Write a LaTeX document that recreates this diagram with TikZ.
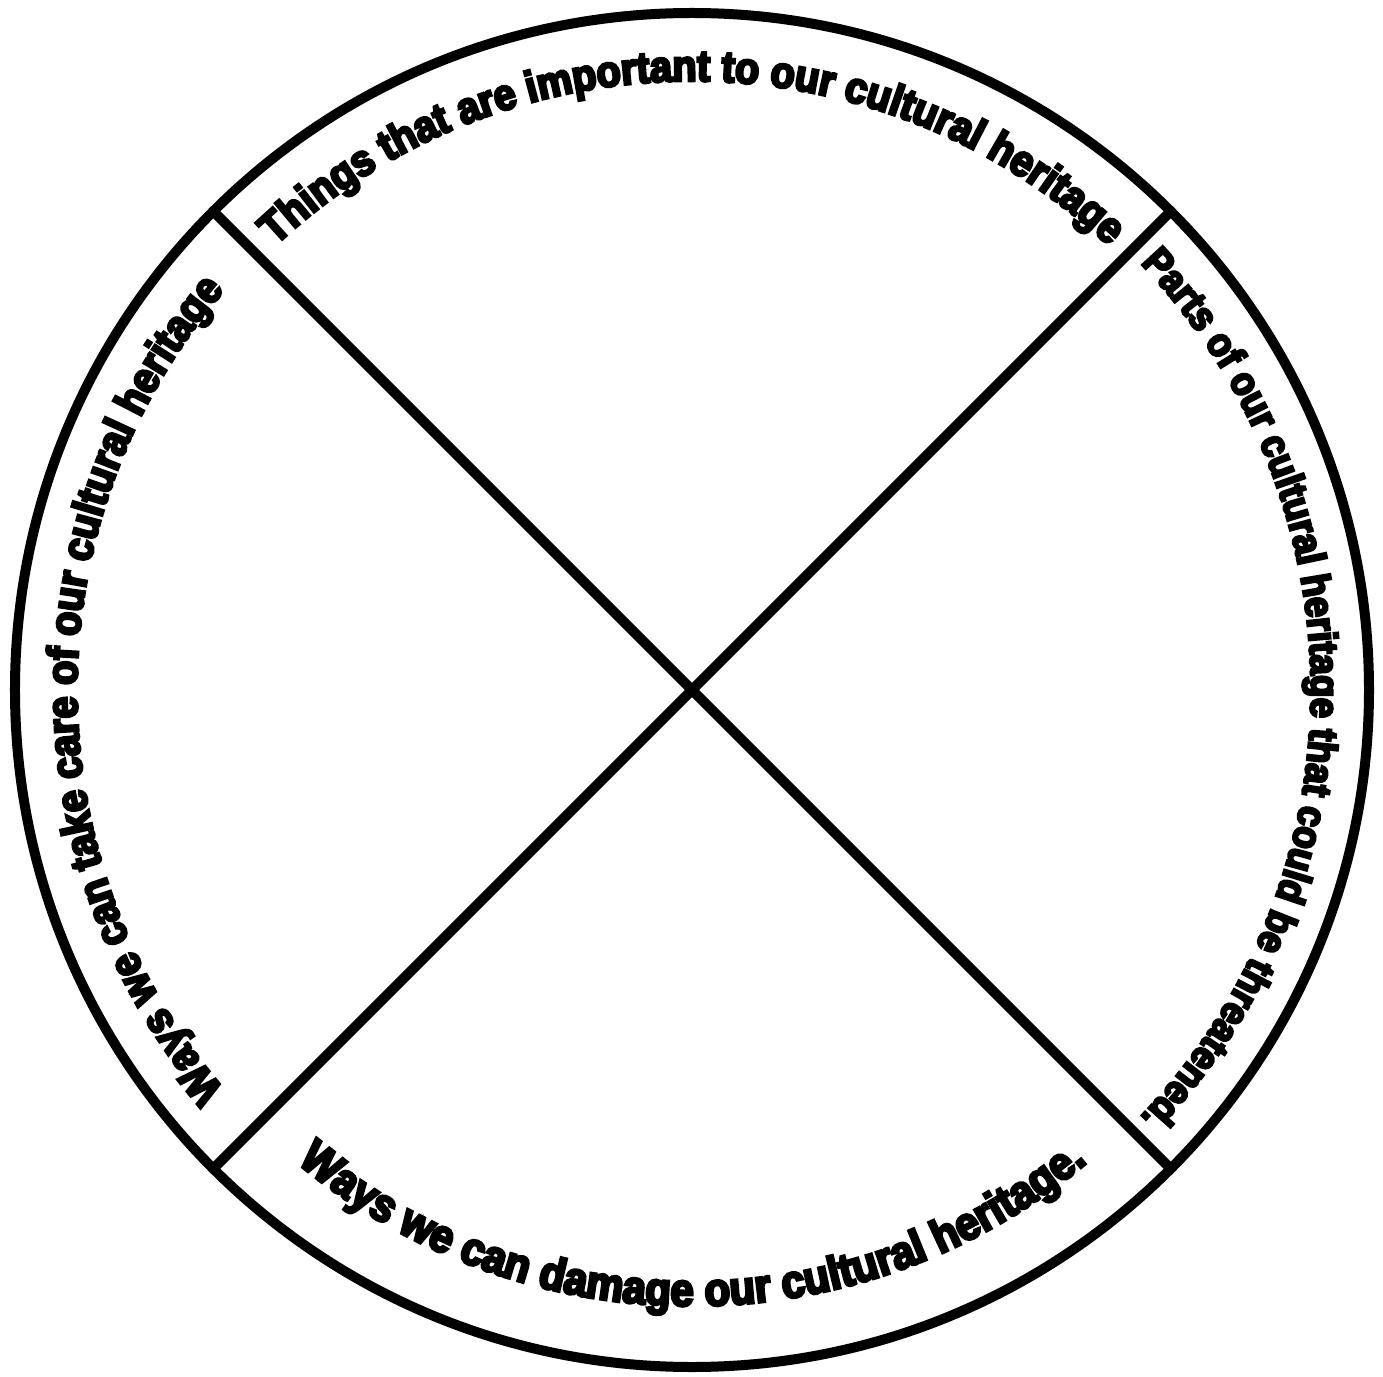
\documentclass[tikz,border=0pt]{standalone}
\usepackage{fontspec}
\newfontfamily\labfont[FakeBold=6,FakeStretch=0.9]{Liberation Sans}
\usetikzlibrary{decorations.text}
\tikzset{
  ringline/.style={line width=10pt, draw=black},
  arclabel/.style={decorate, decoration={text along path, text align=center, text={#1}}}
}
\begin{document}
\begin{tikzpicture}[x=1pt,y=1pt]
\useasboundingbox[fill=white] (-692,-686) rectangle (691,690);
\node[ringline, circle, minimum size=1354pt, inner sep=0pt, outer sep=0pt] (ring) at (0,0) {};
\draw[ringline] (ring.135) -- (ring.-45);
\draw[ringline] (ring.45) -- (ring.-135);
% top
\path[arclabel={|\labfont\bfseries\fontsize{43.9}{44}\selectfont|Things that are important to our cultural heritage}]
  (135:609) arc[start angle=135, end angle=45, radius=609];
% right
\path[arclabel={|\labfont\bfseries\fontsize{40.5}{41}\selectfont|Parts of our cultural heritage that could be threatened.}]
  (45:619) arc[start angle=45, end angle=-45, radius=619];
% left
\path[arclabel={|\labfont\bfseries\fontsize{43.9}{44}\selectfont|Ways we can take care of our cultural heritage}]
  (225:615) arc[start angle=225, end angle=135, radius=615];
% bottom
\path[arclabel={|\labfont\bfseries\fontsize{46.5}{47}\selectfont|Ways we can damage our cultural heritage.}]
  (-135:616) arc[start angle=-135, end angle=-45, radius=616];
\end{tikzpicture}
\end{document}
